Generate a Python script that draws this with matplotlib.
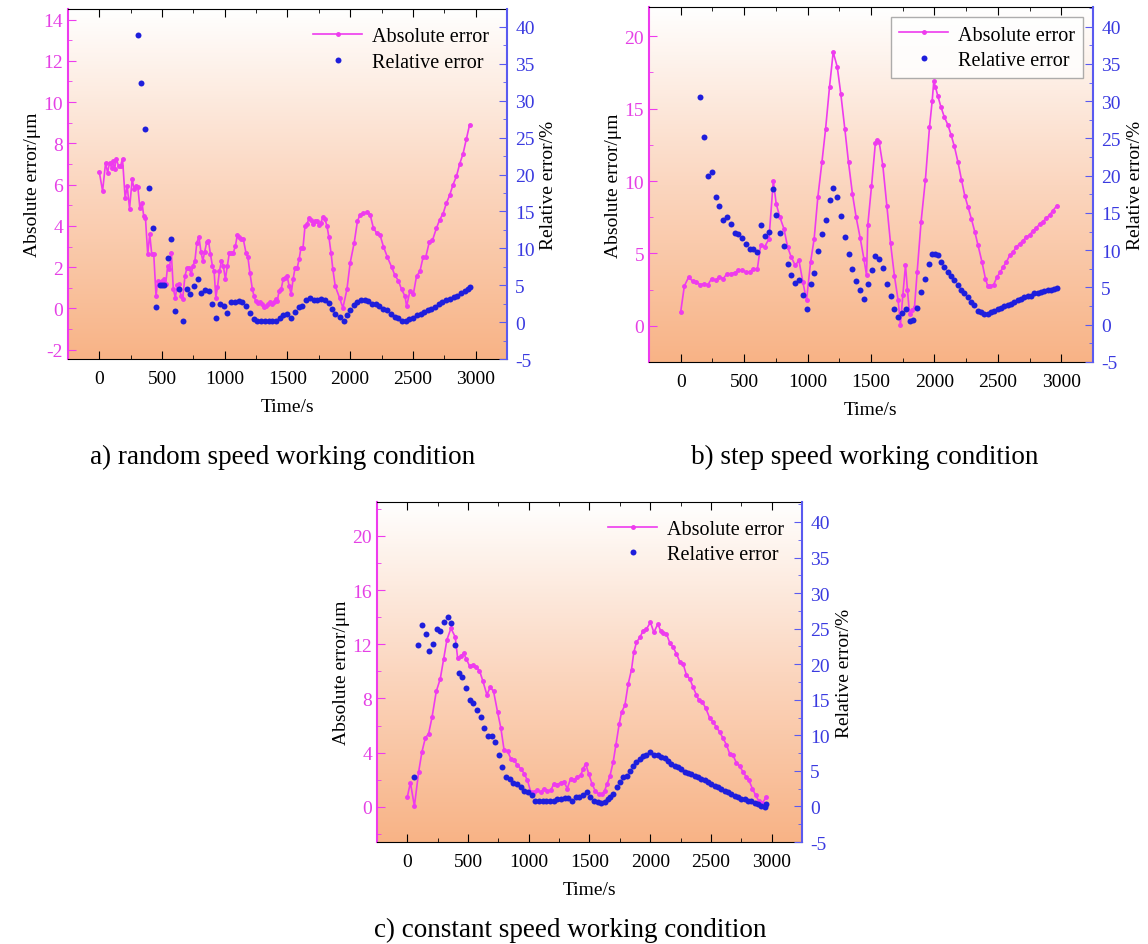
import matplotlib
matplotlib.use('Agg')
import matplotlib.pyplot as plt
import numpy as np
from matplotlib.ticker import MultipleLocator
from matplotlib.colors import LinearSegmentedColormap

plt.rcParams['font.family'] = ['Liberation Serif', 'DejaVu Serif']
plt.rcParams['axes.unicode_minus'] = False

# ---------- a) random speed ----------
a_abs_t = [0, 26, 50, 66, 82, 98, 108, 122, 135, 153, 169, 185, 206, 222, 241, 262, 278, 294, 307,
           323, 341, 354, 368, 386, 402, 418, 434, 452, 466, 479, 497, 513, 529, 545, 558, 574, 590,
           606, 622, 638, 651, 664, 683, 698, 717, 733, 746, 762, 778, 794, 810, 825, 841, 857, 870,
           886, 902, 915, 929, 942, 958, 974, 989, 1005, 1021, 1037, 1053, 1069, 1085, 1101, 1116,
           1132, 1148, 1169, 1185, 1201, 1220, 1233, 1246, 1265, 1280, 1296, 1312, 1328, 1344, 1360,
           1376, 1392, 1407, 1418, 1434, 1450, 1466, 1481, 1497, 1513, 1529, 1545, 1561, 1577, 1593,
           1608, 1624, 1640, 1656, 1672, 1688, 1704, 1720, 1735, 1751, 1767, 1783, 1799, 1815, 1831,
           1847, 1862, 1881, 1915, 1942, 1974, 2000, 2032, 2058, 2079, 2106, 2132, 2159, 2185, 2212,
           2238, 2265, 2296, 2331, 2357, 2384, 2410, 2437, 2450, 2476, 2503, 2529, 2556, 2582, 2603,
           2630, 2656, 2688, 2714, 2741, 2767, 2794, 2820, 2847, 2873, 2900, 2926, 2952]
a_abs_v = [6.61, 5.69, 7.06, 6.58, 7.06, 6.82, 7.15, 6.74, 7.26, 6.9, 6.9, 7.26, 5.34, 5.94, 4.84,
           6.26, 5.77, 5.94, 5.9, 4.89, 5.1, 4.48, 4.37, 2.63, 3.6, 2.63, 2.63, 0.61, 1.34, 1.26,
           1.34, 1.42, 1.18, 2.06, 1.9, 2.71, 0.94, 0.53, 1.13, 1.18, 0.61, 0.45, 1.58, 1.94, 1.94,
           1.66, 2.06, 2.31, 3.19, 3.48, 2.76, 2.31, 2.76, 3.23, 3.27, 2.63, 2.06, 1.82, 0.53, 1.02,
           1.82, 2.31, 2.06, 1.42, 2.06, 2.71, 2.68, 2.71, 3.03, 3.58, 3.44, 3.39, 3.35, 2.71, 2.47,
           1.71, 0.94, 0.61, 0.37, 0.26, 0.32, 0.21, 0.05, 0.13, 0.21, 0.29, 0.21, 0.29, 0.45, 0.37,
           0.85, 0.94, 1.42, 1.5, 1.58, 1.1, 0.69, 1.42, 1.98, 1.94, 2.39, 2.95, 2.95, 4.0, 4.08,
           4.4, 4.29, 4.08, 4.24, 4.24, 4.03, 4.16, 4.45, 4.32, 4.0, 3.44, 2.71, 1.9, 1.08, 0.52,
           0.03, 0.92, 2.21, 3.18, 4.23, 4.55, 4.63, 4.66, 4.55, 3.9, 3.65, 3.56, 3.0, 2.5, 2.0, 1.6,
           1.35, 0.92, 0.6, 0.1, 0.84, 0.68, 1.56, 1.8, 2.5, 2.5, 3.2, 3.3, 3.9, 4.3, 4.6, 5.1, 5.5,
           6.0, 6.4, 7.0, 7.5, 8.2, 8.9]
a_rel_t = [307, 336, 368, 397, 426, 455, 484, 500, 516, 545, 574, 606, 635, 667, 696, 725, 754, 783,
           812, 841, 873, 902, 931, 963, 992, 1021, 1050, 1079, 1111, 1140, 1169, 1201, 1230, 1259,
           1288, 1317, 1349, 1378, 1407, 1437, 1466, 1497, 1532, 1561, 1590, 1619, 1648, 1677, 1709,
           1738, 1767, 1796, 1828, 1857, 1881, 1915, 1947, 1974, 2000, 2032, 2058, 2085, 2119, 2146,
           2172, 2206, 2233, 2265, 2296, 2323, 2357, 2384, 2415, 2444, 2471, 2503, 2529, 2561, 2590,
           2622, 2648, 2680, 2706, 2735, 2767, 2794, 2825, 2852, 2881, 2913, 2939, 2952]
a_rel_v = [38.95, 32.4, 26.2, 18.2, 12.7, 2.1, 5.0, 5.0, 5.0, 8.7, 11.3, 1.5, 4.5, 0.1, 4.5, 3.8,
           4.9, 5.8, 3.9, 4.3, 4.2, 2.5, 0.5, 2.5, 2.2, 1.3, 2.7, 2.7, 2.9, 2.7, 2.2, 1.2, 0.4, 0.1,
           0.1, 0.1, 0.2, 0.2, 0.2, 0.5, 0.9, 1.1, 0.6, 1.4, 2.0, 2.2, 3.0, 3.3, 3.0, 3.0, 3.1, 3.0,
           2.6, 1.8, 1.1, 0.7, 0.1, 0.9, 1.6, 2.3, 2.7, 3.0, 3.0, 2.8, 2.5, 2.4, 2.2, 1.8, 1.6, 1.1,
           0.7, 0.5, 0.2, 0.1, 0.4, 0.5, 0.9, 1.1, 1.4, 1.6, 1.8, 2.0, 2.4, 2.7, 3.0, 3.2, 3.4, 3.6,
           3.9, 4.2, 4.5, 4.8]

# ---------- b) step speed ----------
b_abs_t = [0, 29, 63, 94, 123, 152, 184, 215, 244, 276, 304, 336, 365, 394, 425, 454, 483, 514, 543,
           572, 604, 630, 661, 696, 730, 753, 782, 814, 843, 871, 903, 932, 963, 992, 1024, 1052,
           1081, 1113, 1142, 1173, 1202, 1234, 1262, 1294, 1323, 1354, 1383, 1415, 1444, 1465, 1475,
           1504, 1535, 1549, 1564, 1593, 1625, 1654, 1685, 1714, 1732, 1751, 1772, 1787, 1804, 1824,
           1843, 1864, 1895, 1929, 1961, 1982, 1995, 2008, 2026, 2052, 2079, 2105, 2131, 2157, 2186,
           2213, 2239, 2265, 2291, 2318, 2344, 2375, 2402, 2420, 2441, 2467, 2493, 2520, 2541, 2567,
           2593, 2619, 2646, 2672, 2698, 2724, 2751, 2777, 2803, 2829, 2855, 2882, 2908, 2934, 2966]
b_abs_v = [0.96, 2.75, 3.37, 3.07, 3.03, 2.84, 2.91, 2.84, 3.26, 3.14, 3.37, 3.26, 3.6, 3.6, 3.67,
           3.83, 3.83, 3.72, 3.72, 3.94, 3.9, 5.55, 5.44, 6.01, 10.02, 8.42, 7.5, 6.7, 5.44, 4.75,
           4.17, 4.52, 3.03, 1.77, 4.4, 6.01, 8.88, 11.28, 13.58, 16.49, 18.9, 17.89, 16.03, 13.58,
           11.28, 9.1, 7.5, 6.06, 4.63, 3.49, 6.97, 9.63, 12.66, 12.84, 12.71, 11.1, 8.3, 5.71, 3.42,
           1.77, 0.05, 2.11, 4.2, 2.5, 0.8, 1.1, 1.3, 3.72, 7.2, 10.1, 13.7, 15.5, 16.9, 16.5, 15.9,
           15.1, 14.4, 13.9, 13.2, 12.4, 11.3, 10.1, 9.0, 8.2, 7.4, 6.5, 5.55, 4.4, 3.26, 2.75, 2.75,
           2.84, 3.37, 3.72, 4.06, 4.4, 4.86, 5.09, 5.44, 5.67, 5.89, 6.12, 6.28, 6.58, 6.74, 7.04,
           7.2, 7.43, 7.66, 7.96, 8.3]
b_rel_t = [152, 184, 215, 244, 276, 304, 336, 365, 394, 425, 454, 483, 514, 543, 572, 604, 635, 664,
           696, 724, 753, 782, 814, 843, 871, 903, 932, 963, 992, 1024, 1052, 1084, 1113, 1142, 1173,
           1202, 1234, 1262, 1294, 1323, 1354, 1383, 1415, 1444, 1475, 1507, 1535, 1564, 1596, 1627,
           1656, 1685, 1714, 1743, 1774, 1806, 1835, 1864, 1895, 1929, 1961, 1982, 2008, 2026, 2052,
           2079, 2105, 2131, 2157, 2184, 2210, 2236, 2262, 2289, 2315, 2341, 2367, 2394, 2420, 2446,
           2472, 2499, 2525, 2551, 2577, 2604, 2630, 2656, 2682, 2709, 2735, 2761, 2787, 2814, 2840,
           2866, 2892, 2919, 2945, 2966]
b_rel_v = [30.6, 25.2, 20.0, 20.5, 17.2, 16.0, 14.0, 14.5, 13.5, 12.3, 12.2, 11.7, 10.8, 10.2, 10.2,
           9.8, 13.4, 11.9, 12.4, 18.2, 14.7, 12.3, 10.5, 8.1, 6.7, 5.6, 6.0, 4.0, 2.1, 5.4, 7.0, 9.9,
           12.2, 14.1, 16.8, 18.4, 17.1, 14.6, 11.8, 9.5, 7.5, 5.9, 4.7, 3.5, 5.4, 7.3, 9.2, 8.8, 7.6,
           5.5, 3.8, 2.1, 1.0, 1.6, 2.1, 0.45, 0.7, 2.2, 4.4, 6.1, 8.2, 9.5, 9.5, 9.3, 8.4, 7.7, 7.1,
           6.6, 6.0, 5.3, 4.6, 4.2, 3.7, 3.1, 2.6, 1.9, 1.7, 1.5, 1.5, 1.7, 1.9, 2.1, 2.2, 2.5, 2.7,
           2.8, 3.0, 3.3, 3.5, 3.7, 3.8, 3.9, 4.2, 4.3, 4.4, 4.5, 4.6, 4.7, 4.8, 4.9]

# ---------- c) constant speed ----------
c_abs_t = [0, 25, 58, 93, 120, 148, 175, 203, 238, 271, 299, 326, 359, 394, 414, 441, 463, 485, 513,
           540, 567, 594, 622, 655, 682, 710, 743, 770, 797, 825, 852, 879, 907, 934, 962, 989, 1016,
           1044, 1071, 1098, 1126, 1153, 1181, 1208, 1235, 1263, 1290, 1317, 1345, 1372, 1400, 1427,
           1449, 1468, 1493, 1520, 1548, 1575, 1602, 1625, 1645, 1668, 1695, 1717, 1745, 1764, 1791,
           1819, 1846, 1865, 1887, 1915, 1942, 1969, 2002, 2030, 2063, 2085, 2107, 2134, 2162, 2189,
           2216, 2243, 2271, 2298, 2326, 2353, 2380, 2402, 2430, 2457, 2490, 2517, 2545, 2572, 2599,
           2627, 2654, 2682, 2709, 2736, 2764, 2791, 2813, 2841, 2868, 2895, 2923, 2956]
c_abs_v = [0.74, 1.79, 0.05, 2.58, 4.05, 5.08, 5.4, 6.6, 8.52, 9.45, 10.92, 12.34, 13.18, 12.54,
           10.99, 11.12, 11.34, 10.92, 10.38, 10.48, 10.31, 10.06, 9.28, 8.27, 8.83, 8.52, 6.99, 5.82,
           4.17, 4.1, 3.56, 3.44, 3.07, 2.82, 2.45, 1.96, 1.1, 1.1, 1.23, 1.1, 1.35, 1.15, 1.23, 1.72,
           1.64, 1.79, 1.84, 1.35, 2.09, 1.96, 2.21, 2.33, 2.82, 3.19, 2.45, 1.72, 1.15, 0.95, 0.93,
           1.2, 1.7, 2.26, 3.31, 4.54, 6.13, 6.99, 7.48, 9.08, 10.13, 11.41, 12.15, 12.51, 13.0,
           13.13, 13.62, 12.88, 13.5, 13.01, 12.83, 12.76, 12.09, 11.78, 11.29, 10.72, 10.55, 9.74,
           9.45, 8.83, 8.27, 7.85, 7.73, 7.29, 6.55, 6.26, 5.89, 5.52, 5.08, 4.59, 3.93, 3.8, 3.26,
           3.02, 2.58, 2.21, 1.96, 1.35, 0.86, 0.42, 0.25, 0.74]
c_rel_t = [58, 88, 120, 151, 181, 211, 241, 271, 301, 332, 362, 392, 422, 452, 482, 512, 543, 573,
           603, 633, 663, 693, 723, 753, 783, 813, 843, 873, 903, 933, 963, 994, 1024, 1054, 1084,
           1114, 1144, 1174, 1205, 1235, 1265, 1295, 1325, 1356, 1386, 1416, 1446, 1476, 1506, 1536,
           1566, 1596, 1626, 1650, 1668, 1695, 1723, 1750, 1778, 1805, 1832, 1860, 1887, 1915, 1942,
           1969, 2002, 2030, 2063, 2092, 2120, 2147, 2175, 2202, 2230, 2257, 2284, 2312, 2339, 2366,
           2394, 2421, 2449, 2476, 2503, 2531, 2558, 2585, 2613, 2640, 2668, 2695, 2722, 2750, 2777,
           2805, 2832, 2859, 2887, 2914, 2942, 2956]
c_rel_v = [4.2, 22.7, 25.5, 24.3, 21.8, 22.8, 25.0, 24.7, 26.0, 26.6, 25.8, 22.7, 18.8, 18.2, 16.6,
           14.9, 14.5, 13.5, 12.6, 11.1, 9.9, 9.9, 9.1, 7.2, 5.6, 4.1, 3.9, 3.3, 3.1, 2.7, 2.2, 2.0,
           1.6, 0.7, 0.7, 0.8, 0.7, 0.8, 0.7, 1.0, 1.1, 1.2, 1.2, 0.7, 1.4, 1.3, 1.6, 2.0, 1.4, 0.8,
           0.6, 0.5, 0.6, 1.1, 1.3, 1.8, 2.7, 3.4, 4.1, 4.3, 5.0, 5.7, 6.3, 6.7, 7.1, 7.3, 7.6, 7.3,
           7.3, 7.0, 6.8, 6.4, 6.0, 5.7, 5.5, 5.3, 4.9, 4.7, 4.6, 4.3, 4.1, 3.9, 3.7, 3.4, 3.2, 2.9,
           2.7, 2.5, 2.2, 2.0, 1.8, 1.5, 1.3, 1.1, 1.1, 0.8, 0.7, 0.5, 0.3, 0.1, -0.1, 0.4]

PINK = '#EE3BEE'
BLUE = '#1E1EDC'
PINK_TXT = '#E540E5'
BLUE_TXT = '#3A3AE0'
grad = LinearSegmentedColormap.from_list('bg', ['#F8B386', '#FBD6BF', '#FFFFFF'])


def draw_panel(pos, at, av, rt, rv, ylim_l, ylim_r, major_l, minor_l, caption, cap_xy, framed):
    ax = fig.add_axes(pos)
    ax.imshow(np.linspace(0, 1, 256).reshape(-1, 1), cmap=grad, origin='lower', aspect='auto',
              extent=[0, 1, 0, 1], transform=ax.transAxes, zorder=0)
    ax2 = ax.twinx()

    l1, = ax.plot(at, av, '-', color=PINK, lw=1.2, marker='o', ms=2.5, zorder=3,
                  label='Absolute error')
    l2, = ax2.plot(rt, rv, 'o', color=BLUE, ms=4.3, mec='none', label='Relative error')

    ax.set_xlim(-250, 3250)
    ax.set_ylim(*ylim_l)
    ax2.set_ylim(*ylim_r)
    ax.xaxis.set_major_locator(MultipleLocator(500))
    ax.xaxis.set_minor_locator(MultipleLocator(250))
    ax.yaxis.set_major_locator(MultipleLocator(major_l))
    ax.yaxis.set_minor_locator(MultipleLocator(minor_l))
    ax2.yaxis.set_major_locator(MultipleLocator(5))
    ax2.yaxis.set_minor_locator(MultipleLocator(2.5))

    ax.tick_params(axis='x', which='both', direction='in', top=True, labelsize=14, pad=8)
    ax.tick_params(axis='x', which='major', length=6)
    ax.tick_params(axis='x', which='minor', length=3)
    ax.tick_params(axis='y', which='both', direction='in', colors=PINK, labelcolor=PINK_TXT,
                   labelsize=14)
    ax.tick_params(axis='y', which='major', length=6)
    ax.tick_params(axis='y', which='minor', length=3)
    ax2.tick_params(axis='y', which='both', direction='in', colors='#5A5AF0',
                    labelcolor=BLUE_TXT, labelsize=14, pad=6)
    ax2.tick_params(axis='y', which='major', length=6)
    ax2.tick_params(axis='y', which='minor', length=3)

    ax.spines['left'].set_color(PINK)
    ax.spines['left'].set_linewidth(1.5)
    ax.spines['right'].set_visible(False)
    for s in ['left', 'top', 'bottom']:
        ax2.spines[s].set_visible(False)
    ax2.spines['right'].set_color('#5A5AF0')
    ax2.spines['right'].set_linewidth(1.5)

    ax.set_xlabel('Time/s', fontsize=14, labelpad=8)
    ax.set_ylabel('Absolute error/μm', fontsize=14, labelpad=2)
    ax2.set_ylabel('Relative error/%', fontsize=14, labelpad=4)

    ax2.legend(handles=[l1, l2], loc='upper right', fontsize=14.5, frameon=framed,
               fancybox=False, handlelength=2.4, handletextpad=0.5, borderaxespad=0.5,
               labelspacing=0.3, edgecolor='#999999')
    fig.text(cap_xy[0], cap_xy[1], caption, fontsize=19.5, ha='center', va='center')
    return ax, ax2


fig = plt.figure(figsize=(11.48, 9.45), dpi=100)

draw_panel([0.0592, 0.619, 0.3824, 0.3702], a_abs_t, a_abs_v, a_rel_t, a_rel_v,
           (-2.45, 14.5), (-5, 42.4), 2, 1,
           'a) random speed working condition', (0.2465, 0.5155), False)
draw_panel([0.5653, 0.6159, 0.3868, 0.3753], b_abs_t, b_abs_v, b_rel_t, b_rel_v,
           (-2.5, 22), (-5, 42.6), 5, 2.5,
           'b) step speed working condition', (0.7535, 0.5155), True)
draw_panel([0.3284, 0.1079, 0.3702, 0.3598], c_abs_t, c_abs_v, c_rel_t, c_rel_v,
           (-2.6, 22.5), (-5, 42.8), 4, 2,
           'c) constant speed working condition', (0.4965, 0.0159), False)

fig.savefig('out.png', dpi=100, facecolor='white')
